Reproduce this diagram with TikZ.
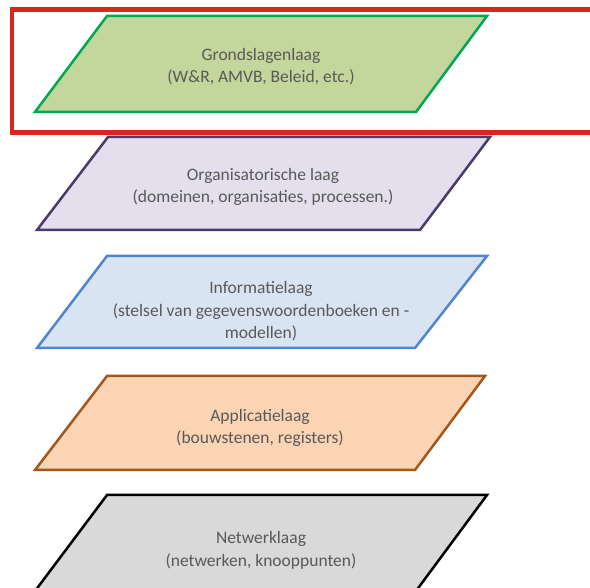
\documentclass[tikz,border=0pt]{standalone}
\usepackage{fontspec}
\setmainfont{Carlito}

\definecolor{tekstgrijs}{HTML}{595959}
\definecolor{rood}{HTML}{D8261C}
\definecolor{groen}{HTML}{C3D69B}
\definecolor{groenrand}{HTML}{00A84F}
\definecolor{paars}{HTML}{E4DFEC}
\definecolor{paarsrand}{HTML}{4B3B6B}
\definecolor{blauw}{HTML}{D9E4F2}
\definecolor{blauwrand}{HTML}{4F86CF}
\definecolor{oranje}{HTML}{FBD4B4}
\definecolor{oranjerand}{HTML}{A5571A}
\definecolor{grijs}{HTML}{D9D9D9}

\begin{document}
\begin{tikzpicture}[x=1pt,y=-1pt,
  laag/.style={line width=2.5pt},
  tekst/.style={align=center, anchor=base, text=tekstgrijs, font=\fontsize{17.5}{22.5}\selectfont}]

\useasboundingbox (0,0) rectangle (590,588);

% grondslagenlaag
\draw[laag, draw=groenrand, fill=groen] (107,16) -- (487,16) -- (416,112) -- (35,112) -- cycle;
\node[tekst] (grond) at (261,83) {Grondslagenlaag\\(W\&R, AMVB, Beleid, etc.)};
\draw[line width=4.5pt, draw=rood] (12,9.5) rectangle (600,132.5);

% organisatorische laag
\draw[laag, draw=paarsrand, fill=paars] (108,137) -- (490,137) -- (420,230) -- (37,230) -- cycle;
\node[tekst] (org) at (263,203) {Organisatorische laag\\(domeinen, organisaties, processen.)};

% informatielaag
\draw[laag, draw=blauwrand, fill=blauw] (107,256) -- (487,256) -- (415,348) -- (37,348) -- cycle;
\node[tekst] (info) at (261,339) {Informatielaag\\(stelsel van gegevenswoordenboeken en -\\modellen)};

% applicatielaag
\draw[laag, draw=oranjerand, fill=oranje] (107,376) -- (485,376) -- (415,470) -- (35,470) -- cycle;
\node[tekst] (app) at (260,444) {Applicatielaag\\(bouwstenen, registers)};

% netwerklaag
\draw[laag, draw=black, fill=grijs] (107,495) -- (487,495) -- (416,591) -- (35,591) -- cycle;
\node[tekst] (netwerk) at (261,566) {Netwerklaag\\(netwerken, knooppunten)};

\end{tikzpicture}
\end{document}
